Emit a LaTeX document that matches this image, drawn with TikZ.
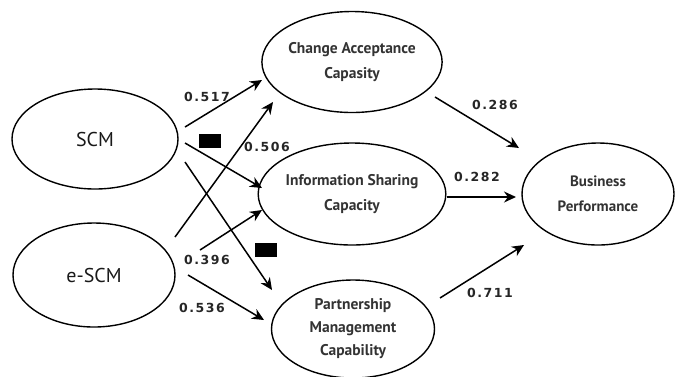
\documentclass[tikz,border=0pt]{standalone}
\usepackage{fontspec}
\setmainfont{PT Sans}
\newfontfamily\numfont[LetterSpace=12]{DejaVu Sans}
\usetikzlibrary{shapes.geometric,arrows.meta}
\begin{document}
\begin{tikzpicture}[x=1pt,y=-1pt,
  oval/.style={draw=black,line width=1.4pt,ellipse,inner sep=0pt,align=center,text=black!80,font=\bfseries\fontsize{15.5}{25}\selectfont},
  big/.style={text=black!90,font=\fontsize{20}{24}\selectfont},
  arr/.style={line width=1.5pt,-{Stealth[length=12pt,width=11pt]}},
  val/.style={font=\numfont\bfseries\fontsize{12.5}{14}\selectfont,text=black!85,inner sep=0pt},
  blk/.style={fill=black,minimum width=22pt,minimum height=14pt,inner sep=0pt}]
\useasboundingbox (0,0) rectangle (676,376);
\node[oval,big,minimum width=166pt,minimum height=100pt] (scm) at (95,139) {SCM};
\node[oval,big,minimum width=162pt,minimum height=104pt] (escm) at (94,275) {e-SCM};
\node[oval,minimum width=164pt,minimum height=101pt] (ca) at (352,62) {Change Acceptance\\Capasity};
\node[oval,minimum width=164pt,minimum height=102pt] (is) at (352,194) {Information Sharing\\Capacity};
\node[oval,minimum width=163pt,minimum height=98pt,font=\bfseries\fontsize{15.5}{23}\selectfont] (pm) at (353,329) {Partnership\\Management\\Capability};
\node[oval,minimum width=152pt,minimum height=102pt,font=\bfseries\fontsize{15}{25}\selectfont] (bp) at (598,194) {Business\\Performance};
% arrow end points
\coordinate (a1s) at (185,127); \coordinate (a1e) at (262,80);
\coordinate (a2s) at (185,143); \coordinate (a2e) at (262,188);
\coordinate (a3s) at (185,162); \coordinate (a3e) at (272,290);
\coordinate (a4s) at (175,237); \coordinate (a4e) at (273,102);
\coordinate (a5s) at (200,250); \coordinate (a5e) at (262,210);
\coordinate (a6s) at (188,275); \coordinate (a6e) at (264,320);
\coordinate (a7s) at (435,97);  \coordinate (a7e) at (519,148);
\coordinate (a8s) at (447,197); \coordinate (a8e) at (516,197);
\coordinate (a9s) at (440,298); \coordinate (a9e) at (524,245);
\draw[arr] (a1s) -- (a1e);
\draw[arr] (a2s) -- (a2e);
\draw[arr] (a3s) -- (a3e);
\draw[arr] (a4s) -- (a4e);
\draw[arr] (a5s) -- (a5e);
\draw[arr] (a6s) -- (a6e);
\draw[arr] (a7s) -- (a7e);
\draw[arr] (a8s) -- (a8e);
\draw[arr] (a9s) -- (a9e);
\node[blk] (r1) at (210,141) {};
\node[blk] (r2) at (266,250) {};
\node[val] (v1) at (207,97) {0.517};
\node[val] (v2) at (267,147) {0.506};
\node[val] (v3) at (207,260) {0.396};
\node[val] (v4) at (202,308) {0.536};
\node[val] (v5) at (495,105) {0.286};
\node[val] (v6) at (477,177) {0.282};
\node[val] (v7) at (490,293) {0.711};
\end{tikzpicture}
\end{document}
